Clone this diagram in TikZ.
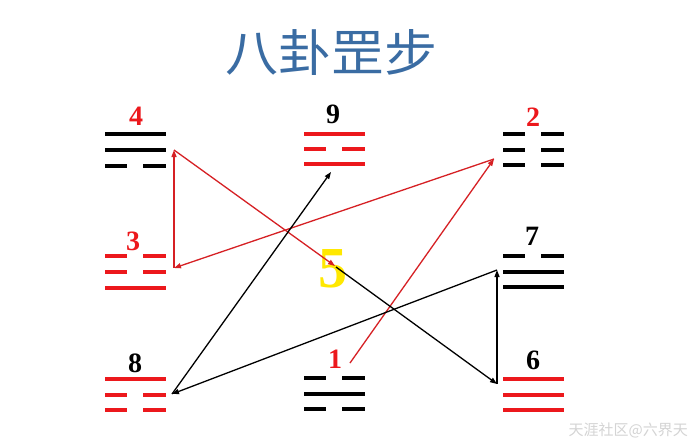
\documentclass[tikz,border=0pt]{standalone}
\usepackage{fontspec}
\setmainfont{Liberation Serif}
\newfontfamily\cjk{Noto Sans CJK SC}
\usetikzlibrary{arrows.meta}
\definecolor{gred}{RGB}{236,24,28}
\definecolor{lred}{RGB}{214,32,36}
\definecolor{titleblue}{RGB}{58,108,163}
\definecolor{fiveyel}{RGB}{255,232,0}
\newcommand\yangl[3]{\draw[yao,#1] (#2,#3) -- ++(61,0);}
\newcommand\yinl[3]{\draw[yao,#1] (#2,#3) -- ++(22,0) ++(16,0) -- ++(23,0);}
\begin{document}
\begin{tikzpicture}[x=1pt,y=-1pt,
  yao/.style={line width=4.5pt},
  num/.style={font=\bfseries\fontsize{28}{28}\selectfont, inner sep=0pt},
  conn/.style={line width=1.3pt, -{Triangle[length=7pt,width=5pt]}},
  redconn/.style={conn, lred},
  blackconn/.style={conn, black}]
\useasboundingbox[fill=white] (0,0) rectangle (690,445);
% title
\node[font=\cjk\fontsize{50}{50}\selectfont, text=titleblue, xscale=1.06] (title) at (331,52) {八卦罡步};
% the 5
\node[font=\bfseries\fontsize{58}{58}\selectfont, text=fiveyel, inner sep=0pt] (five) at (333,269) {5};
% trigrams
% 4 Xun (black)
\yangl{black}{105}{134}\yangl{black}{105}{150}\yinl{black}{105}{166}
% 9 Li (red)
\yangl{gred}{304}{134}\yinl{gred}{304}{149}\yangl{gred}{304}{164}
% 2 Kun (black)
\yinl{black}{503}{134}\yinl{black}{503}{150}\yinl{black}{503}{165}
% 3 Zhen (red)
\yinl{gred}{105}{256}\yinl{gred}{105}{272}\yangl{gred}{105}{288}
% 7 Dui (black)
\yinl{black}{503}{256}\yangl{black}{503}{272}\yangl{black}{503}{287}
% 8 Gen (red)
\yangl{gred}{105}{379}\yinl{gred}{105}{395}\yinl{gred}{105}{410}
% 1 Kan (black)
\yinl{black}{304}{378}\yangl{black}{304}{394}\yinl{black}{304}{409}
% 6 Qian (red)
\yangl{gred}{503}{379}\yangl{gred}{503}{395}\yangl{gred}{503}{410}
% numbers
\node[num, text=gred] (n4) at (136,116) {4};
\node[num, text=black] (n9) at (333,114) {9};
\node[num, text=gred] (n2) at (533,117) {2};
\node[num, text=gred] (n3) at (133,241) {3};
\node[num, text=black] (n7) at (532,236) {7};
\node[num, text=black] (n8) at (135,363) {8};
\node[num, text=gred] (n1) at (335,359) {1};
\node[num, text=black] (n6) at (533,360) {6};
% connector points
\coordinate (p1) at (350,363);
\coordinate (p2) at (494,159);
\coordinate (p3) at (174,268);
\coordinate (p4) at (174,150);
\coordinate (p5) at (335,266);
\coordinate (p5b) at (336,267);
\coordinate (p6) at (497,384);
\coordinate (p7) at (497,270);
\coordinate (p8) at (172,394);
\coordinate (p9) at (331,172);
% path
\draw[redconn] (p1) -- (p2);
\draw[redconn] (p2) -- (p3);
\draw[redconn] (p3) -- (p4);
\draw[redconn] (p4) -- (p5);
\draw[blackconn] (p5b) -- (p6);
\draw[blackconn] (p6) -- (p7);
\draw[blackconn] (p7) -- (p8);
\draw[blackconn] (p8) -- (p9);
% watermark
\node[font=\cjk\fontsize{15}{15}\selectfont, text=black!17, anchor=east, inner sep=0pt] (wm) at (688,430) {天涯社区@六界天};
\end{tikzpicture}
\end{document}
